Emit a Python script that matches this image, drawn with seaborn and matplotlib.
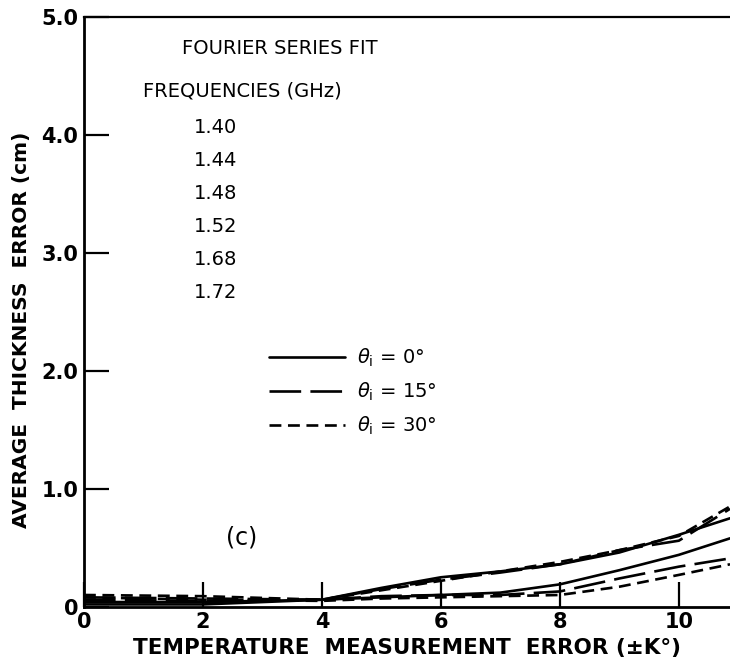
import matplotlib
matplotlib.use("Agg")
import matplotlib.pyplot as plt
import seaborn as sns
import pandas as pd

# --- Data ---
temp_error = [0, 2, 4, 5, 6, 7, 8, 9, 10, 10.86]

# upper group of curves
upper_0deg = [0.04, 0.04, 0.06, 0.16, 0.25, 0.30, 0.36, 0.46, 0.61, 0.75]
upper_15deg = [0.08, 0.07, 0.06, 0.15, 0.23, 0.29, 0.36, 0.48, 0.56, 0.83]
upper_30deg = [0.10, 0.09, 0.06, 0.14, 0.22, 0.30, 0.38, 0.48, 0.60, 0.85]
# lower group of curves
lower_0deg = [0.02, 0.02, 0.06, 0.08, 0.10, 0.12, 0.19, 0.31, 0.44, 0.58]
lower_15deg = [0.06, 0.05, 0.06, 0.09, 0.10, 0.10, 0.13, 0.24, 0.34, 0.41]
lower_30deg = [0.08, 0.06, 0.05, 0.07, 0.08, 0.09, 0.10, 0.17, 0.27, 0.36]

frequencies = ["1.40", "1.44", "1.48", "1.52", "1.68", "1.72"]
angles = ["0°", "15°", "30°"]

x_ticks = [0, 2, 4, 6, 8, 10]
y_ticks = [0, 1, 2, 3, 4, 5]
y_tick_labels = ["0", "1.0", "2.0", "3.0", "4.0", "5.0"]

# --- Styles ---
LW = 1.9
STYLES = {
    "0°": "-",
    "15°": (0, (12, 3.5)),
    "30°": (0, (4.5, 2.5)),
}


def build_frame():
    series = {
        ("upper", "0°"): upper_0deg,
        ("upper", "15°"): upper_15deg,
        ("upper", "30°"): upper_30deg,
        ("lower", "0°"): lower_0deg,
        ("lower", "15°"): lower_15deg,
        ("lower", "30°"): lower_30deg,
    }
    rows = []
    for (group, angle), vals in series.items():
        for x, v in zip(temp_error, vals):
            rows.append({"x": x, "err": v, "group": group, "angle": angle})
    return pd.DataFrame(rows)


def main():
    sns.set_theme(style="ticks")
    plt.rcParams["font.family"] = ["DejaVu Sans"]
    plt.rcParams["text.color"] = "black"
    plt.rcParams["axes.labelcolor"] = "black"

    df = build_frame()

    fig = plt.figure(figsize=(7.3, 6.69), dpi=100)
    ax = fig.add_axes([0.115, 0.093, 0.885, 0.882])

    handles = []
    for angle in angles:
        sub = df[df["angle"] == angle]
        for group in ["upper", "lower"]:
            part = sub[sub["group"] == group]
            sns.lineplot(data=part, x="x", y="err", ax=ax, color="black",
                         linewidth=LW, linestyle=STYLES[angle],
                         estimator=None, legend=False)
        handles.append(ax.lines[-1])

    ax.set_xlim(0, 10.86)
    ax.set_ylim(0, 5.0)
    ax.set_xticks(x_ticks)
    ax.set_xticklabels([str(t) for t in x_ticks])
    ax.set_yticks(y_ticks)
    ax.set_yticklabels(y_tick_labels)
    ax.tick_params(direction="in", length=18, width=1.6, colors="black",
                   labelsize=15, pad=4)
    for lbl in ax.get_xticklabels() + ax.get_yticklabels():
        lbl.set_fontweight("semibold")

    for side in ["left", "bottom"]:
        ax.spines[side].set_linewidth(2.0)
        ax.spines[side].set_color("black")
    ax.spines["top"].set_linewidth(1.6)
    ax.spines["top"].set_color("black")
    ax.spines["right"].set_visible(False)

    ax.set_xlabel("TEMPERATURE  MEASUREMENT  ERROR (±K°)", fontsize=15.5,
                  fontweight="bold", labelpad=4)
    ax.set_ylabel("AVERAGE  THICKNESS  ERROR (cm)", fontsize=14.5,
                  fontweight="bold")
    ax.yaxis.set_label_coords(-0.082, 0.47)

    # annotations
    ax.text(3.3, 4.73, "FOURIER SERIES FIT", fontsize=14, ha="center",
            va="center", fontweight="medium")
    ax.text(1.0, 4.37, "FREQUENCIES (GHz)", fontsize=14, ha="left",
            va="center", fontweight="medium")
    for i, f in enumerate(frequencies):
        ax.text(1.85, 4.06 - i * 0.28, f, fontsize=14, ha="left",
                va="center", fontweight="medium")
    ax.text(2.65, 0.59, "(c)", fontsize=17, ha="center", va="center")

    labels = [r"$\theta_{\rm i}$ = " + a for a in angles]
    ax.legend(handles, labels, loc="upper left", bbox_to_anchor=(0.26, 0.47),
              frameon=False, fontsize=14, handlelength=3.9, handletextpad=0.6,
              labelspacing=0.6)

    fig.savefig("out.png", dpi=100)
    plt.close(fig)


if __name__ == "__main__":
    main()
